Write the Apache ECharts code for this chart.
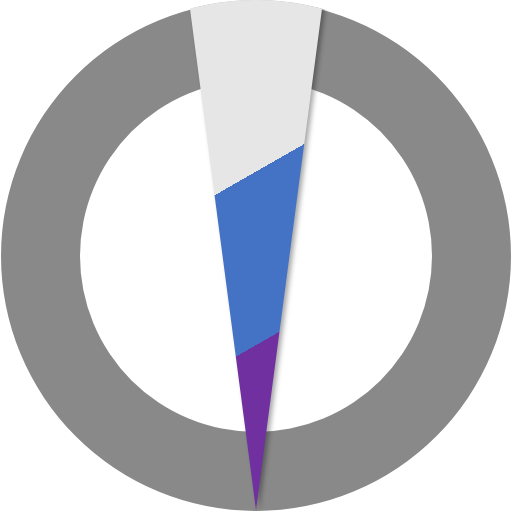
<!DOCTYPE html>
<html>
<head>
<meta charset="utf-8">
<style>
  html, body { margin: 0; padding: 0; background: #fff; }
  #main { width: 512px; height: 512px; }
</style>
<script src="https://cdn.jsdelivr.net/npm/echarts@6/dist/echarts.min.js"></script>
</head>
<body>
<div id="main"></div>
<script>
// 数据
var ringValues = [1];
var ringColors = ['#898989'];
var wedgeDegrees = [15];               // 扇形张角
var bandValues = [30.6, 32.2, 37.2];   // 紫 / 蓝 / 浅灰 所占比例
var bandColors = ['#7030a0', '#4472c4', '#e6e6e6'];

var chart = echarts.init(document.getElementById('main'));

// 扇形顶点在底部，顶端被外圆裁掉
var apexX = 256, apexY = 510;
var gradAngle = 29.8 * Math.PI / 180;   // 分界线的倾斜角
var gradLen = 467.6;

// 按比例算渐变的硬分界
var total = bandValues.reduce(function (a, b) { return a + b; }, 0);
var stops = [];
var acc = 0;
bandValues.forEach(function (v, i) {
    stops.push({offset: acc / total, color: bandColors[i]});
    acc += v;
    stops.push({offset: acc / total, color: bandColors[i]});
});

var wedgeColor = {
    type: 'linear',
    global: true,
    x: apexX,
    y: apexY,
    x2: apexX - gradLen * Math.sin(gradAngle),
    y2: apexY - gradLen * Math.cos(gradAngle),
    colorStops: stops
};

function renderWedge(params, api) {
    var half = api.value(0) / 2 * Math.PI / 180;
    var w = api.getWidth(), h = api.getHeight();
    return {
        type: 'sector',
        shape: {
            cx: apexX, cy: apexY, r0: 0, r: h,
            startAngle: -Math.PI / 2 - half,
            endAngle: -Math.PI / 2 + half,
            clockwise: true
        },
        style: {
            fill: wedgeColor,
            shadowColor: 'rgba(0,0,0,0.35)',
            shadowBlur: 5,
            shadowOffsetX: 3,
            shadowOffsetY: 1
        },
        clipPath: {
            type: 'circle',
            shape: {cx: w / 2, cy: h / 2, r: Math.min(w, h) / 2}
        }
    };
}

var option = {
    animation: false,
    series: [
        {
            type: 'pie',
            z: 1,
            radius: [176, 255],
            center: ['50%', '50%'],
            silent: true,
            label: {show: false},
            labelLine: {show: false},
            data: ringValues.map(function (v, i) {
                return {value: v, itemStyle: {color: ringColors[i]}};
            })
        },
        {
            type: 'custom',
            z: 5,
            coordinateSystem: 'none',
            silent: true,
            renderItem: renderWedge,
            data: wedgeDegrees.map(function (v) { return [v]; })
        }
    ]
};

chart.setOption(option);
</script>
</body>
</html>
